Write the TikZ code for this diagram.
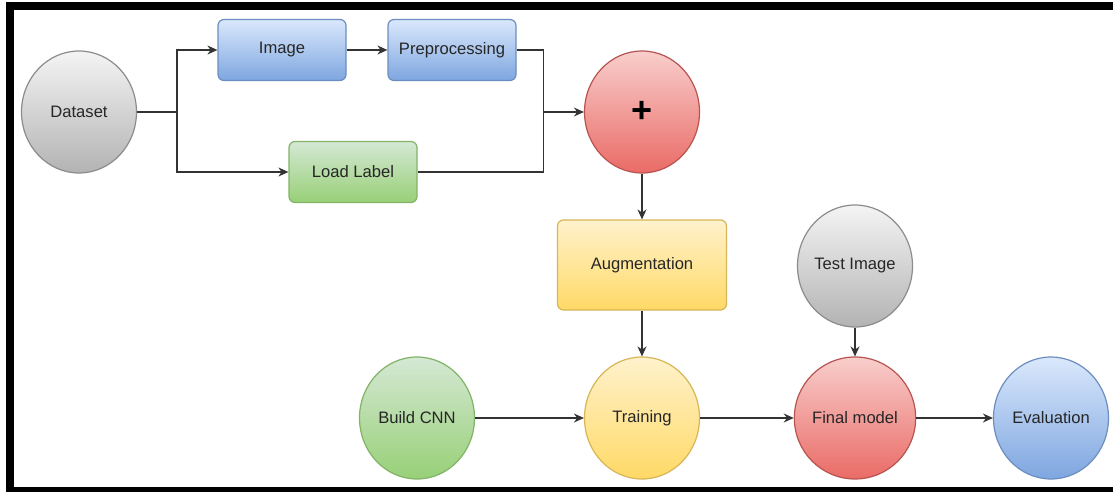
\documentclass[tikz,border=0pt]{standalone}
\usepackage{fontspec}
\setmainfont{Liberation Sans}
\usetikzlibrary{calc,arrows.meta,shapes.geometric}
\definecolor{greyline}{HTML}{8C8C8C}
\definecolor{greytop}{HTML}{F4F4F4}
\definecolor{greybot}{HTML}{B3B3B3}
\definecolor{blueline}{HTML}{6C8EBF}
\definecolor{bluetop}{HTML}{DAE8FC}
\definecolor{bluebot}{HTML}{7EA6E0}
\definecolor{greenline}{HTML}{82B366}
\definecolor{greentop}{HTML}{D5E8D4}
\definecolor{greenbot}{HTML}{97D077}
\definecolor{yellowline}{HTML}{D6B656}
\definecolor{yellowtop}{HTML}{FFF2CC}
\definecolor{yellowbot}{HTML}{FFD966}
\definecolor{redline}{HTML}{B85450}
\definecolor{redtop}{HTML}{F8CECC}
\definecolor{redbot}{HTML}{EA6B66}
\definecolor{wire}{HTML}{333333}
\definecolor{ink}{HTML}{262626}

\begin{document}
\begin{tikzpicture}[x=1pt,y=-1pt,font=\fontsize{16.6}{19}\selectfont]
       \tikzstyle{ball} = [ellipse, line width=1.2pt, minimum width=115pt, minimum height=122pt, inner sep=0pt, text=ink];
       \tikzstyle{box} = [rectangle, rounded corners=6pt, line width=1.2pt, minimum width=128pt, minimum height=61pt, text=ink];
       \tikzstyle{greyfill} = [draw=greyline, top color=greytop, bottom color=greybot];
       \tikzstyle{bluefill} = [draw=blueline, top color=bluetop, bottom color=bluebot];
       \tikzstyle{greenfill} = [draw=greenline, top color=greentop, bottom color=greenbot];
       \tikzstyle{yellowfill} = [draw=yellowline, top color=yellowtop, bottom color=yellowbot];
       \tikzstyle{redfill} = [draw=redline, top color=redtop, bottom color=redbot];
       \tikzstyle{wireline} = [draw=wire, line width=1.5pt];
       \tikzstyle{wirearrow} = [wireline, -{Stealth[length=10pt,width=9pt]}];

       \useasboundingbox[fill=white] (0,0) rectangle (1113,492);
       % black frame (right side cut off)
       \fill[black] (6,2) rectangle (1113,10);
       \fill[black] (6,2) rectangle (14,492);
       \fill[black] (6,487) rectangle (1113,492);

       \node[ball, greyfill] (dataset) at (79,112) {Dataset};
       \node[box, bluefill] (image) at (282,50) {Image};
       \node[box, bluefill] (prep) at (452,50) {Preprocessing};
       \node[box, greenfill] (load) at (353,172) {Load Label};
       \node[ball, redfill, text=black] (plus) at (642,112) {\fontsize{36}{36}\selectfont\bfseries +};
       \node[box, yellowfill, minimum width=169pt, minimum height=90pt] (aug) at (642,265) {Augmentation};
       \node[ball, greenfill] (cnn) at (417,418) {Build CNN};
       \node[ball, yellowfill] (train) at (642,418) {Training};
       \node[ball, greyfill] (test) at (855,266) {Test Image};
       \node[ball, redfill] (final) at (855,418) {Final model};
       \node[ball, bluefill] (eval) at (1051,418) {Evaluation};

       \coordinate (split) at ($(dataset.east)+(40,0)$);
       \coordinate (merge) at ($(prep.east |- plus)+(27,0)$);

       \draw[wireline] (dataset) -- (split);
       \draw[wirearrow] (split) |- (image);
       \draw[wirearrow] (split) |- (load);
       \draw[wirearrow] (image) -- (prep);
       \draw[wireline] (prep) -| (merge);
       \draw[wireline] (load) -| (merge);
       \draw[wirearrow] (merge) -- (plus);

       \draw[wirearrow] (plus) -- (aug);
       \draw[wirearrow] (aug) -- (train);
       \draw[wirearrow] (cnn) -- (train);
       \draw[wirearrow] (train) -- (final);
       \draw[wirearrow] (test) -- (final);
       \draw[wirearrow] (final) -- (eval);
     \end{tikzpicture}
\end{document}
